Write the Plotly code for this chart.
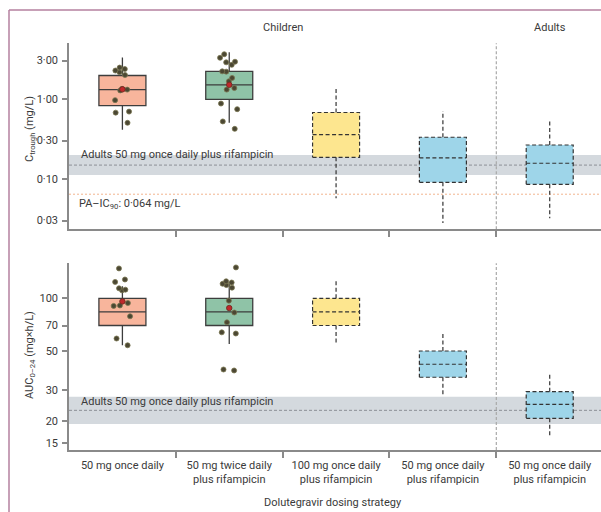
import numpy as np
import plotly.graph_objects as go

# ---------------- data ----------------
categories = ["50 mg once daily", "50 mg twice daily<br>plus rifampicin",
              "100 mg once daily<br>plus rifampicin", "50 mg once daily<br>plus rifampicin",
              "50 mg once daily<br>plus rifampicin"]
box_colors = ["#F8B59C", "#8FC3A7", "#FDE68F", "#9ED5E9"]
box_color_idx = [0, 1, 2, 3, 3]
dashed = [False, False, True, True, True]

# Ctrough (mg/L) box statistics
ct_lower = [0.41, 0.50, 0.057, 0.028, 0.032]
ct_q1 = [0.82, 0.98, 0.185, 0.090, 0.085]
ct_median = [1.30, 1.49, 0.356, 0.182, 0.156]
ct_q3 = [1.95, 2.20, 0.673, 0.330, 0.264]
ct_upper = [3.27, 3.80, 1.39, 0.70, 0.545]

# AUC0-24 (mg*h/L) box statistics
auc_lower = [54.0, 55.0, 54.2, 27.5, 16.4]
auc_q1 = [70.0, 70.0, 70.0, 35.5, 20.7]
auc_median = [83.6, 83.6, 83.6, 42.1, 24.9]
auc_q3 = [100.0, 100.0, 100.0, 50.1, 29.4]
auc_upper = [117.0, 124.0, 127.0, 64.6, 37.4]

# observed individual values (children, first two strategies)
ct_points_1 = [2.45, 2.35, 2.25, 2.15, 1.98, 1.33, 1.30, 1.27, 0.96, 0.69, 0.67, 0.50]
ct_points_2 = [3.6, 3.25, 2.9, 2.85, 2.65, 2.2, 2.18, 1.82, 1.65, 1.36, 1.30, 0.87, 0.74, 0.52, 0.42]
auc_points_1 = [148, 128, 124, 114, 112, 111, 94, 91, 90.5, 79, 59, 54]
auc_points_2 = [150, 125, 123, 121, 119, 115, 97, 83, 73, 64, 63, 39.3, 38.8]
ct_red = [1.31, 1.49]
auc_red = [96, 88]

# reference values
ct_adult_band = [0.111, 0.198]
ct_adult_ref = 0.148
pa_ic90 = 0.064
auc_adult_band = [19.2, 27.5]
auc_adult_ref = 23.0

ct_ticks = [3, 1, 0.3, 0.1, 0.03]
ct_ticktext = ["3·00", "1·00", "0·30", "0·10", "0·03"]
auc_ticks = [100, 70, 50, 30, 20, 15]
auc_ticktext = ["100", "70", "50", "30", "20", "15"]

# ---------------- style ----------------
FONT = "Roboto"
TXT = "#3a3a3a"
AX = "#8a8a8a"
BOXW = 0.44
BAND = "#D4D9DE"
PT_FILL = "#4b4733"
PT_LINE = "#7a7650"

fig = go.Figure()

def add_panel(xa, ya, lower, q1, med, q3, upper, pts_list, red_vals):
    for i in range(len(categories)):
        col = box_colors[box_color_idx[i]]
        if not dashed[i]:
            fig.add_trace(go.Box(
                x=[i], q1=[q1[i]], median=[med[i]], q3=[q3[i]],
                lowerfence=[lower[i]], upperfence=[upper[i]],
                width=BOXW, whiskerwidth=0, fillcolor=col,
                line=dict(color="#3d3d3d", width=1.3), boxpoints=False,
                xaxis=xa, yaxis=ya, showlegend=False, hoverinfo="skip"))
        else:
            fig.add_trace(go.Box(
                x=[i], q1=[q1[i]], median=[med[i]], q3=[q3[i]],
                lowerfence=[q1[i]], upperfence=[q3[i]],
                width=BOXW, whiskerwidth=0, fillcolor=col,
                line=dict(color="rgba(0,0,0,0)", width=0), boxpoints=False,
                xaxis=xa, yaxis=ya, showlegend=False, hoverinfo="skip"))
            h = BOXW / 2
            xs = [i - h, i + h, i + h, i - h, i - h, None,
                  i - h, i + h, None, i, i, None, i, i]
            ys = [q1[i], q1[i], q3[i], q3[i], q1[i], None,
                  med[i], med[i], None, q3[i], upper[i], None, q1[i], lower[i]]
            fig.add_trace(go.Scatter(
                x=xs, y=ys, mode="lines",
                line=dict(color="#333333", width=1.2, dash="4px,2.5px"),
                xaxis=xa, yaxis=ya, showlegend=False, hoverinfo="skip"))
    for i, pts in enumerate(pts_list):
        fig.add_trace(go.Box(
            x=[i] * len(pts), y=pts, boxpoints="all", jitter=0.45, pointpos=0,
            width=BOXW, fillcolor="rgba(0,0,0,0)", line=dict(width=0, color="rgba(0,0,0,0)"),
            marker=dict(size=5, color=PT_FILL, line=dict(color=PT_LINE, width=0.8)),
            xaxis=xa, yaxis=ya, showlegend=False, hoverinfo="skip"))
    fig.add_trace(go.Scatter(
        x=list(range(len(red_vals))), y=red_vals, mode="markers",
        marker=dict(size=5.5, color="#C0282B", line=dict(color="#6a2a20", width=0.8)),
        xaxis=xa, yaxis=ya, showlegend=False, hoverinfo="skip"))

add_panel("x", "y", ct_lower, ct_q1, ct_median, ct_q3, ct_upper,
          [ct_points_1, ct_points_2], ct_red)
add_panel("x2", "y2", auc_lower, auc_q1, auc_median, auc_q3, auc_upper,
          [auc_points_1, auc_points_2], auc_red)

W, H = 601, 512
L = 69
plot_w = W - L

def py(px):
    return 1 - px / H

shapes = []
# grey adult bands + reference lines
for xr, yr, band, ref in [("x domain", "y", ct_adult_band, ct_adult_ref),
                          ("x2 domain", "y2", auc_adult_band, auc_adult_ref)]:
    shapes.append(dict(type="rect", xref=xr, yref=yr, x0=0, x1=1, y0=band[0], y1=band[1],
                       fillcolor=BAND, line=dict(width=0), layer="below"))
    shapes.append(dict(type="line", xref=xr, yref=yr, x0=0, x1=1, y0=ref, y1=ref,
                       line=dict(color="#8c9096", width=1, dash="3px,2px"), layer="below"))
shapes.append(dict(type="line", xref="x domain", yref="y", x0=0, x1=1, y0=pa_ic90, y1=pa_ic90,
                   line=dict(color="#F2B48E", width=1, dash="2px,2px"), layer="below"))
# separator between children and adults
for xr, yr in [("x", "y domain"), ("x2", "y2 domain")]:
    shapes.append(dict(type="line", xref=xr, yref=yr, x0=3.5, x1=3.5, y0=0, y1=1,
                       line=dict(color="#a9a9a9", width=1.2, dash="3px,2px"), layer="below"))
# outer frame
fx = (9 - L) / plot_w
shapes.append(dict(type="line", xref="paper", yref="paper", x0=fx, x1=1.2, y0=py(10), y1=py(10),
                   line=dict(color="#B5809F", width=1.5)))
shapes.append(dict(type="line", xref="paper", yref="paper", x0=fx, x1=fx, y0=py(10), y1=-0.2,
                   line=dict(color="#B5809F", width=1.5)))

def ann(text, x, xref, y_px, xanchor="center", angle=0):
    return dict(text=text, x=x, xref=xref, y=py(y_px), yref="paper", xanchor=xanchor,
                yanchor="middle", textangle=angle, showarrow=False,
                font=dict(size=11, color=TXT))

annotations = [
    ann("Children", 1.5, "x", 27),
    ann("Adults", 4, "x", 27),
    ann("Adults 50 mg once daily plus rifampicin", (79 - L) / plot_w, "paper", 154, "left"),
    ann("PA–IC<sub>90</sub>: 0·064 mg/L", (77 - L) / plot_w, "paper", 204, "left"),
    ann("Adults 50 mg once daily plus rifampicin", (79 - L) / plot_w, "paper", 401.7, "left"),
    ann("C<sub>trough</sub> (mg/L)", (30 - L) / plot_w, "paper", 129, "center", -90),
    ann("AUC<sub>0–24</sub> (mg×h/L)", (30 - L) / plot_w, "paper", 355, "center", -90),
    ann("Dolutegravir dosing strategy", (333 - L) / plot_w, "paper", 502),
]

xr = [-0.5, 4.48]
xcommon = dict(range=xr, showline=True, linecolor=AX, linewidth=1.5, showgrid=False,
               zeroline=False, tickmode="array", tickvals=list(range(5)), ticks="",
               minor=dict(tickvals=[0.5, 1.5, 2.5, 3.5], ticks="outside", ticklen=6,
                          tickcolor=AX, tickwidth=1.5, showgrid=False),
               fixedrange=True)
ycommon = dict(type="log", showline=True, linecolor=AX, linewidth=1.5, showgrid=False,
               zeroline=False, ticks="outside", ticklen=5, tickcolor=AX, tickwidth=1.5,
               tickfont=dict(size=11, color=TXT), ticklabelstandoff=2, fixedrange=True)

fig.update_layout(
    width=W, height=H, margin=dict(l=L, r=0, t=0, b=0, autoexpand=False),
    paper_bgcolor="white", plot_bgcolor="white",
    font=dict(family=FONT, size=11, color=TXT),
    boxmode="overlay", showlegend=False, hovermode=False,
    xaxis=dict(**xcommon, domain=[0, 1], anchor="y", showticklabels=False),
    xaxis2=dict(**xcommon, domain=[0, 1], anchor="y2", showticklabels=True,
                ticktext=categories, tickfont=dict(size=11, color=TXT),
                ticklabelstandoff=4),
    yaxis=dict(**ycommon, domain=[py(229.3), py(43.3)], anchor="x",
               range=[np.log10(0.02331), np.log10(4.93)],
               tickvals=ct_ticks, ticktext=ct_ticktext),
    yaxis2=dict(**ycommon, domain=[py(450), py(263.3)], anchor="x2",
                range=[np.log10(13.67), np.log10(158.3)],
                tickvals=auc_ticks, ticktext=auc_ticktext),
    shapes=shapes, annotations=annotations,
)

fig.write_html("out.html", config={"displayModeBar": False},
               post_script="document.body.style.margin='0px';")
